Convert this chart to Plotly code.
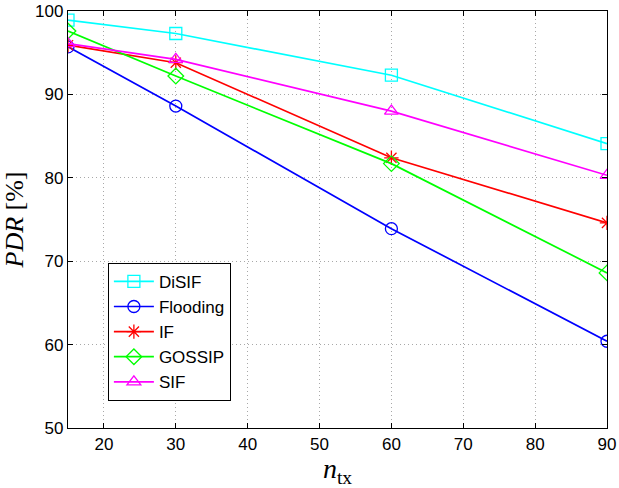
import plotly.graph_objects as go

x_vals = [15, 30, 60, 90]
disif = [98.9, 97.3, 92.3, 84.1]
flooding = [95.7, 88.6, 73.9, 60.4]
if_vals = [95.9, 93.8, 82.4, 74.6]
gossip = [97.6, 92.2, 81.7, 68.6]
sif = [96.1, 94.2, 88.0, 80.3]

x_ticks = [20, 30, 40, 50, 60, 70, 80, 90]
y_ticks = [50, 60, 70, 80, 90, 100]

series = [
    ("DiSIF", disif, "#00FFFF", "square-open"),
    ("Flooding", flooding, "#0000FF", "circle-open"),
    ("IF", if_vals, "#FF0000", "asterisk-open"),
    ("GOSSIP", gossip, "#00FF00", "diamond-open"),
    ("SIF", sif, "#FF00FF", "triangle-up-open"),
]

fig = go.Figure()
for name, vals, color, sym in series:
    fig.add_trace(go.Scatter(
        x=x_vals, y=vals, name=name, mode="lines+markers",
        line=dict(color=color, width=1.7),
        marker=dict(symbol=sym, size=12, color=color, line=dict(color=color, width=1.3)),
    ))

axis_common = dict(
    showline=True, linecolor="black", linewidth=1.3, mirror="ticks",
    ticks="inside", ticklen=5, tickcolor="black",
    showgrid=True, gridcolor="#a8a8a8", griddash="1px,3px", gridwidth=1,
    zeroline=False, automargin=False,
    tickfont=dict(family="Liberation Sans, Arial", size=17, color="black"),
)

fig.update_xaxes(range=[15, 90], tickvals=x_ticks,
                 title=dict(text="<i>n</i><sub>tx</sub>", font=dict(family="Liberation Serif, serif", size=28, color="black"), standoff=2),
                 **axis_common)
fig.update_yaxes(range=[50, 100], tickvals=y_ticks,
                 title=dict(text="<i>PDR</i> [%]", font=dict(family="Liberation Serif, serif", size=26, color="black"), standoff=10),
                 **axis_common)

fig.update_layout(
    width=619, height=488,
    margin=dict(l=68, r=12, t=11, b=60),
    paper_bgcolor="white", plot_bgcolor="white",
    showlegend=True,
    legend=dict(x=0.074, y=0.396, xanchor="left", yanchor="top",
                bgcolor="white", bordercolor="black", borderwidth=1,
                font=dict(family="Liberation Sans, Arial", size=17, color="black"),
                itemwidth=40, entrywidth=140, tracegroupgap=0),
)

fig.write_html("out.html", config={"displayModeBar": False},
               post_script="document.body.style.margin='0';document.body.style.padding='0';")
